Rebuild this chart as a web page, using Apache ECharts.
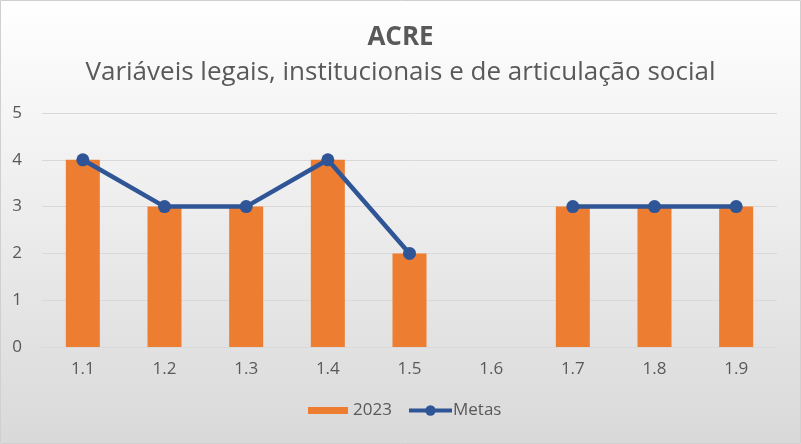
<!DOCTYPE html>
<html><head><meta charset="utf-8">
<script src="https://cdn.jsdelivr.net/npm/echarts@6/dist/echarts.min.js"></script>
<style>html,body{margin:0;padding:0;}#c{width:801px;height:444px;}</style>
</head><body><div id="c"></div>
<script>
const categories = ['1.1','1.2','1.3','1.4','1.5','1.6','1.7','1.8','1.9'];
const values2023 = [4,3,3,4,2,null,3,3,3];
const metas = [4,3,3,4,2,null,3,3,3];
const yTicks = [0,1,2,3,4,5];
const titleText = 'ACRE';
const subtitleText = 'Variáveis legais, institucionais e de articulação social';
const FONT = '"Open Sans", sans-serif';

const chart = echarts.init(document.getElementById('c'), null, {renderer:'canvas'});
chart.setOption({
  animation:false,
  graphic:[{type:'rect', z:-10, silent:true, shape:{x:0.5,y:0.5,width:800,height:443},
    style:{fill:new echarts.graphic.LinearGradient(0,0,0,1,[{offset:0,color:'#ffffff'},{offset:1,color:'#d9d9d9'}]), stroke:'#d0d0d0', lineWidth:1}}],
  title:[
    {text:titleText, left:'center', top:20, textStyle:{fontFamily:FONT, fontSize:26, fontWeight:'bold', color:'#595959'}},
    {text:subtitleText, left:'center', top:55, textStyle:{fontFamily:FONT, fontSize:26, fontWeight:'normal', color:'#595959'}}
  ],
  legend:[
    {left:308, top:402, padding:0, itemWidth:40, itemHeight:7,
      textStyle:{fontFamily:FONT, fontSize:17, color:'#595959'},
      data:[{name:'2023', icon:'rect'}]},
    {left:407, top:402, padding:0, itemWidth:43, itemHeight:13,
      textStyle:{fontFamily:FONT, fontSize:17, color:'#595959', padding:[0,0,0,-4]},
      data:[{name:'Metas', lineStyle:{width:4}}]}
  ],
  grid:{left:42, right:24, top:113, bottom:97},
  xAxis:{type:'category', data:categories,
    axisLine:{lineStyle:{color:'#d9d9d9'}}, axisTick:{show:false},
    axisLabel:{fontFamily:FONT, fontSize:17, color:'#595959', margin:14}},
  yAxis:{type:'value', min:yTicks[0], max:yTicks[yTicks.length-1], interval:1,
    axisLine:{show:false}, axisTick:{show:false},
    splitLine:{lineStyle:{color:'#d9d9d9', width:1}},
    axisLabel:{fontFamily:FONT, fontSize:17, color:'#595959', margin:20}},
  series:[
    {name:'2023', type:'bar', data:values2023, barWidth:34, itemStyle:{color:'#ed7d31'}},
    {name:'Metas', type:'line', data:metas, connectNulls:false, symbol:'circle', symbolSize:13,
      lineStyle:{color:'#2f5597', width:4.5}, itemStyle:{color:'#2f5597'}}
  ]
});
</script></body></html>
